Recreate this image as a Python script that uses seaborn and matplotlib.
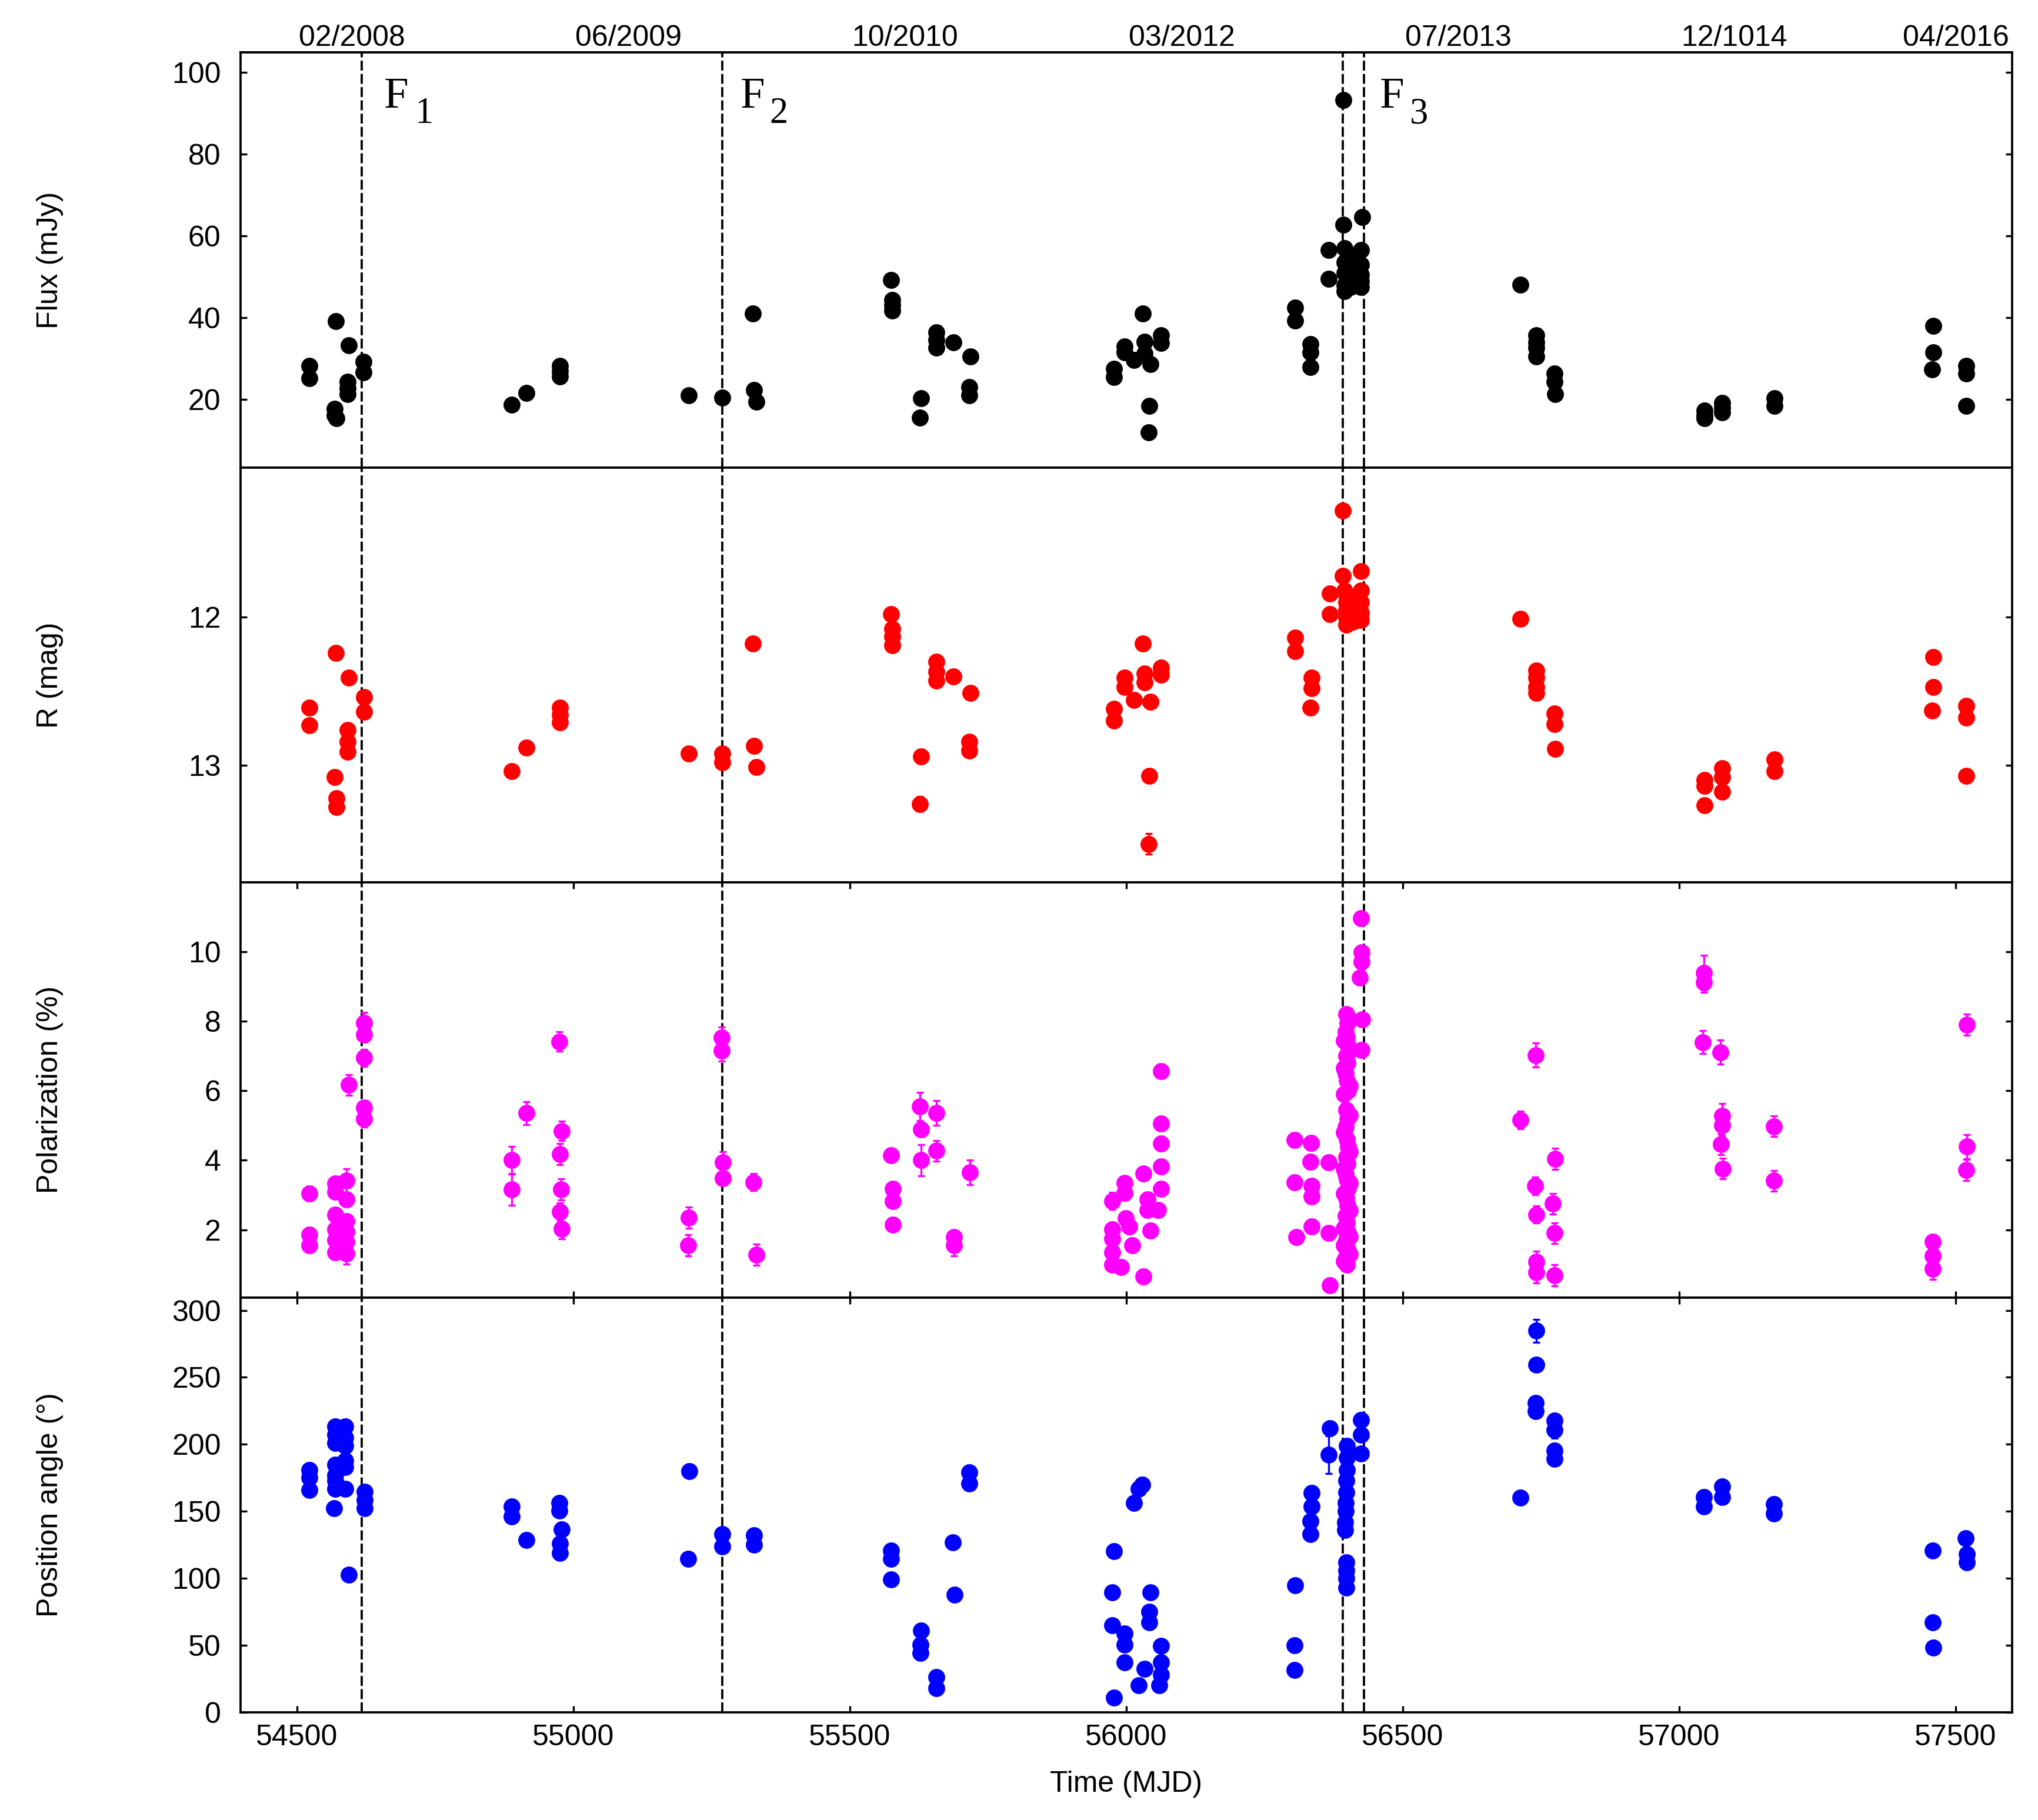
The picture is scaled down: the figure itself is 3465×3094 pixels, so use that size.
import matplotlib
matplotlib.use('Agg')
import matplotlib.pyplot as plt
import matplotlib.transforms as mtransforms
import seaborn as sns

# ---------------- data ----------------
flux_mjd = [54523, 54523, 54570, 54594, 54620, 54620, 54592, 54592, 54592, 54568, 54568, 54572,
            54889, 54915, 54976, 54976, 54976, 55209, 55269, 55325, 55327, 55331,
            55575, 55577, 55577, 55577, 55629, 55627, 55656, 55656, 55656, 55687, 55718, 55716, 55716,
            55978, 55978, 55997, 55997, 56014, 56030, 56033, 56033, 56044, 56042, 56040, 56063, 56063,
            56305, 56305, 56333, 56333, 56333, 56366, 56366, 56393, 56393, 56427,
            56395, 56395, 56395, 56395, 56395, 56405, 56405, 56405, 56405, 56425, 56425, 56425, 56425, 56425,
            56713, 56741, 56741, 56741, 56741, 56774, 56774, 56775,
            57046, 57046, 57046, 57078, 57078, 57078, 57172, 57172,
            57459, 57459, 57457, 57519, 57519, 57519]
flux_val = [28.2, 25.2, 39.1, 33.3, 29.3, 26.7, 24.4, 22.8, 21.4, 17.7, 16.2, 15.4,
            18.8, 21.6, 28.2, 26.9, 25.6, 21.0, 20.5, 41.1, 22.4, 19.5,
            49.2, 44.4, 43.0, 41.7, 20.3, 15.6, 36.5, 34.5, 32.7, 34.0, 30.5, 23.0, 21.0,
            27.5, 25.5, 33.0, 31.5, 29.7, 41.1, 34.2, 31.2, 28.6, 18.4, 12.0, 35.7, 33.8,
            42.5, 39.3, 33.5, 31.5, 28.0, 56.6, 49.5, 93.2, 62.7, 64.6,
            57.0, 53.5, 51.0, 48.0, 46.5, 55.0, 52.0, 49.5, 47.5, 56.6, 53.0, 50.5, 49.0, 47.5,
            48.1, 35.7, 34.0, 32.7, 30.5, 26.3, 24.4, 21.4,
            17.3, 16.2, 15.4, 19.2, 18.0, 16.9, 20.3, 18.4,
            38.0, 31.6, 27.4, 28.2, 26.3, 18.4]

r_mjd = [54523, 54523, 54570, 54594, 54622, 54622, 54592, 54592, 54592, 54568, 54572, 54572,
         54888, 54915, 54976, 54976, 54976, 55209, 55269, 55269, 55325, 55327, 55331,
         55575, 55577, 55577, 55577, 55656, 55656, 55656, 55687, 55718, 55629, 55627, 55716, 55716,
         55978, 55978, 55997, 55997, 56014, 56030, 56033, 56033, 56044, 56042, 56040, 56063, 56063,
         56305, 56305, 56335, 56335, 56333, 56368, 56368, 56391, 56392, 56395,
         56398, 56398, 56398, 56398, 56398, 56410, 56410, 56410, 56410, 56425, 56425, 56425, 56425, 56425,
         56713, 56741, 56741, 56741, 56741, 56774, 56774, 56775,
         57046, 57046, 57046, 57078, 57078, 57078, 57172, 57172,
         57459, 57459, 57457, 57519, 57519, 57519]
r_mag = [12.61, 12.73, 12.24, 12.41, 12.54, 12.64, 12.76, 12.84, 12.91, 13.08, 13.22, 13.28,
         13.04, 12.88, 12.61, 12.66, 12.71, 12.92, 12.92, 12.98, 12.18, 12.87, 13.01,
         11.98, 12.08, 12.13, 12.19, 12.30, 12.37, 12.43, 12.40, 12.51, 12.94, 13.26, 12.84, 12.90,
         12.62, 12.70, 12.41, 12.47, 12.56, 12.18, 12.38, 12.44, 12.57, 13.07, 13.53, 12.34, 12.39,
         12.14, 12.23, 12.41, 12.48, 12.61, 11.84, 11.98, 11.28, 11.72, 11.82,
         11.85, 11.90, 11.95, 12.00, 12.05, 11.88, 11.93, 11.98, 12.03, 11.69, 11.82, 11.90, 11.97, 12.02,
         12.01, 12.36, 12.41, 12.47, 12.51, 12.65, 12.72, 12.89,
         13.10, 13.14, 13.27, 13.02, 13.08, 13.18, 12.96, 13.04,
         12.27, 12.47, 12.63, 12.60, 12.68, 13.07]
r_err = [0.02, 0.02, 0.02, 0.02, 0.02, 0.02, 0.02, 0.02, 0.02, 0.03, 0.04, 0.04,
         0.03, 0.03, 0.02, 0.02, 0.02, 0.03, 0.03, 0.03, 0.02, 0.03, 0.03,
         0.02, 0.02, 0.02, 0.02, 0.02, 0.02, 0.02, 0.02, 0.02, 0.04, 0.05, 0.02, 0.02,
         0.02, 0.02, 0.02, 0.02, 0.02, 0.02, 0.02, 0.02, 0.02, 0.03, 0.07, 0.02, 0.02,
         0.02, 0.02, 0.02, 0.02, 0.02, 0.02, 0.02, 0.02, 0.02, 0.02,
         0.02, 0.02, 0.02, 0.02, 0.02, 0.02, 0.02, 0.02, 0.02, 0.02, 0.02, 0.02, 0.02, 0.02,
         0.02, 0.02, 0.02, 0.02, 0.02, 0.03, 0.03, 0.03,
         0.03, 0.03, 0.04, 0.03, 0.03, 0.03, 0.03, 0.03,
         0.02, 0.02, 0.02, 0.02, 0.02, 0.03]

pol_mjd = [54523, 54523, 54523,
           54569, 54569, 54569, 54569, 54569, 54569,
           54590, 54590, 54590, 54590, 54590, 54590,
           54594, 54622, 54622, 54622, 54622, 54622,
           54888, 54888, 54915, 54975, 54979, 54976, 54978, 54976, 54979,
           55209, 55208, 55268, 55268, 55270, 55270, 55326, 55331,
           55575, 55578, 55578, 55578, 55627, 55629, 55629, 55656, 55657, 55688, 55688, 55717,
           55975, 55975, 55975, 55975, 55975, 55990, 55997, 55997, 55999, 56005, 56011,
           56031, 56031, 56038, 56038, 56044, 56058, 56063, 56063, 56063, 56063, 56063,
           56304, 56304, 56307, 56334, 56333, 56335, 56335, 56335, 56366, 56366, 56368,
           56398, 56400, 56397, 56399, 56401, 56398, 56400, 56397, 56399, 56401,
           56398, 56400, 56397, 56399, 56401, 56398, 56400, 56397, 56399, 56401,
           56398, 56400, 56397, 56399, 56401, 56398, 56400, 56397, 56399,
           56404, 56394, 56404, 56394, 56404, 56394, 56404, 56394, 56404, 56394,
           56404, 56394, 56404, 56394, 56404, 56394, 56404, 56394,
           56425, 56426, 56426, 56422, 56427, 56426,
           56740, 56713, 56775, 56739, 56771, 56741, 56774, 56741, 56741, 56774,
           57045, 57045, 57042, 57074, 57078, 57078, 57075, 57079, 57171, 57171,
           57458, 57458, 57458, 57520, 57520, 57519]
pol_val = [3.04, 1.86, 1.55,
           3.33, 3.10, 2.44, 2.01, 1.70, 1.35,
           3.41, 2.87, 2.25, 1.94, 1.66, 1.31,
           6.17, 7.96, 7.61, 6.95, 5.51, 5.20,
           4.00, 3.16, 5.36, 7.42, 4.84, 4.18, 3.16, 2.52, 2.03,
           2.35, 1.55, 7.53, 7.15, 3.94, 3.49, 3.37, 1.28,
           4.15, 3.18, 2.83, 2.15, 5.55, 4.89, 4.00, 5.36, 4.27, 1.78, 1.55, 3.65,
           2.83, 2.01, 1.74, 1.35, 1.00, 0.93, 3.34, 3.06, 2.33, 2.09, 1.55,
           3.61, 0.65, 2.87, 2.56, 1.97, 2.56, 6.56, 5.05, 4.48, 3.82, 3.18,
           4.58, 3.37, 1.78, 4.50, 3.96, 3.26, 2.95, 2.09, 3.94, 1.90, 0.40,
           8.20, 7.95, 7.70, 7.55, 7.30, 7.00, 6.80, 6.50, 6.30, 6.00,
           5.45, 5.20, 4.95, 4.60, 4.40, 4.10, 3.90, 3.60, 3.45, 3.20,
           2.90, 2.70, 2.40, 2.20, 1.90, 1.70, 1.45, 1.20, 1.00,
           8.05, 7.45, 7.15, 6.65, 6.15, 5.90, 5.30, 4.80, 4.25, 3.75,
           3.35, 3.05, 2.55, 2.05, 1.80, 1.55, 1.30, 1.10,
           10.97, 9.98, 9.71, 9.25, 8.06, 7.17,
           7.03, 5.16, 4.04, 3.26, 2.75, 2.44, 1.90, 1.08, 0.77, 0.69,
           9.40, 9.13, 7.40, 7.11, 5.28, 5.01, 4.46, 3.76, 4.98, 3.41,
           1.66, 1.24, 0.87, 7.90, 4.39, 3.72]
pol_err = [0.20, 0.20, 0.20,
           0.20, 0.20, 0.20, 0.20, 0.20, 0.20,
           0.35, 0.20, 0.20, 0.20, 0.20, 0.30,
           0.30, 0.30, 0.20, 0.25, 0.20, 0.25,
           0.40, 0.45, 0.33, 0.28, 0.28, 0.30, 0.30, 0.25, 0.30,
           0.30, 0.30, 0.30, 0.30, 0.30, 0.20, 0.25, 0.30,
           0.20, 0.20, 0.20, 0.20, 0.40, 0.20, 0.45, 0.35, 0.30, 0.20, 0.30, 0.35,
           0.25, 0.20, 0.20, 0.20, 0.20, 0.20, 0.20, 0.20, 0.20, 0.20, 0.20,
           0.20, 0.20, 0.20, 0.20, 0.20, 0.20, 0.20, 0.20, 0.20, 0.20, 0.20,
           0.20, 0.20, 0.20, 0.20, 0.20, 0.20, 0.20, 0.20, 0.20, 0.20, 0.20,
           0.20, 0.20, 0.20, 0.20, 0.20, 0.20, 0.20, 0.20, 0.20, 0.20,
           0.20, 0.20, 0.20, 0.20, 0.20, 0.20, 0.20, 0.20, 0.20, 0.20,
           0.20, 0.20, 0.20, 0.20, 0.20, 0.20, 0.20, 0.20, 0.20,
           0.20, 0.20, 0.20, 0.20, 0.20, 0.20, 0.20, 0.20, 0.20, 0.20,
           0.20, 0.20, 0.20, 0.20, 0.20, 0.20, 0.20, 0.20,
           0.20, 0.20, 0.20, 0.20, 0.20, 0.20,
           0.35, 0.25, 0.30, 0.25, 0.30, 0.25, 0.30, 0.30, 0.30, 0.30,
           0.50, 0.30, 0.33, 0.35, 0.35, 0.30, 0.30, 0.30, 0.30, 0.30,
           0.20, 0.20, 0.30, 0.30, 0.35, 0.30]

pa_mjd = [54523, 54523, 54523, 54567,
          54569, 54569, 54569, 54569, 54569, 54569, 54569,
          54587, 54587, 54587, 54587, 54587, 54587,
          54623, 54623, 54623, 54594,
          54888, 54888, 54915, 54975, 54975, 54979, 54976, 54976,
          55210, 55208, 55269, 55269, 55327, 55327,
          55575, 55575, 55575, 55629, 55628, 55628, 55656, 55656, 55686, 55689, 55716, 55716,
          55978, 55975, 55975, 55997, 55997, 55997, 55978,
          56022, 56029, 56014, 56044, 56042, 56042, 56063, 56063, 56063, 56033, 56022, 56060,
          56305, 56304, 56304, 56335, 56335, 56333, 56333, 56368, 56366,
          56399, 56399, 56399, 56398, 56398, 56397, 56397, 56396, 56396, 56398, 56398, 56398, 56398,
          56425, 56425, 56425,
          56741, 56742, 56740, 56740, 56774, 56774, 56774, 56774, 56713,
          57045, 57045, 57078, 57078, 57171, 57171,
          57458, 57458, 57459, 57518, 57520, 57520]
pa_val = [181, 175, 166, 152.5,
          213.5, 207, 201, 185, 177, 173, 167,
          213.5, 205, 199, 188, 183, 167,
          164.7, 158.6, 152.5, 102.6,
          153.5, 146.4, 128.7, 156.5, 150.4, 136.6, 126, 118.9,
          180, 114.8, 133, 124, 132, 125,
          120.9, 114.8, 99.1, 60.9, 50.7, 44.6, 26.3, 18.2, 127, 88, 179, 170.8,
          120.3, 89.4, 65, 58.9, 50.7, 37.5, 11,
          166.7, 169.8, 156.5, 89.4, 75, 67, 49.7, 37.5, 28.3, 32.4, 20.2, 20.2,
          94.9, 50.1, 31.8, 163.7, 153.5, 142.7, 133.1, 211.9, 192.1,
          199, 190, 181, 173, 164, 156.5, 150, 142, 136, 112, 106, 100, 93,
          218, 207.4, 193.2,
          284.7, 259.3, 230.8, 224.7, 217.6, 210.5, 195.2, 189.1, 160.2,
          160.6, 153.5, 168.7, 160.6, 155.5, 148.4,
          120.9, 67.4, 48.3, 130, 117.9, 111.8]
pa_err = [3, 3, 3, 3,
          3, 3, 3, 3, 3, 3, 3,
          3, 3, 3, 3, 3, 3,
          3, 3, 3, 3,
          3, 3, 3, 3, 3, 3, 3, 3,
          3, 3, 3, 3, 3, 3,
          3, 3, 3, 3, 3, 3, 3, 3, 3, 3, 3, 3,
          3, 3, 3, 3, 3, 3, 3,
          3, 5.5, 3, 3, 3, 3, 3, 3, 3, 3, 3, 3,
          3, 3, 3, 3, 3, 3, 3, 3, 14,
          3, 3, 3, 3, 3, 3, 3, 3, 3, 3, 3, 3, 3,
          3, 3, 3,
          8.4, 3, 3, 3, 3, 6, 3, 3, 3,
          3, 3, 3, 3, 3, 3,
          3, 3, 3, 3, 3, 3]

flare_mjd = [54617, 55269, 56391, 56430]
flare_names = ['F', 'F', 'F']
flare_subs = ['1', '2', '3']

date_ticks = [54600, 55100, 55600, 56100, 56600, 57100, 57500]
date_labels = ['02/2008', '06/2009', '10/2010', '03/2012', '07/2013', '12/1014', '04/2016']

mjd_ticks = [54500, 55000, 55500, 56000, 56500, 57000, 57500]

# ---------------- style ----------------
sns.set_style('ticks')
plt.rcParams['font.family'] = ['Liberation Sans', 'DejaVu Sans']
plt.rcParams.update({
    'font.size': 12,
    'axes.linewidth': 0.9,
    'axes.edgecolor': 'black',
    'axes.labelcolor': 'black',
    'text.color': 'black',
    'xtick.color': 'black',
    'ytick.color': 'black',
})

fig, axes = plt.subplots(4, 1, sharex=True, figsize=(3465 / 300, 3094 / 300), dpi=300)
fig.subplots_adjust(left=0.118, right=0.9873, bottom=0.0591, top=0.9712, hspace=0)

panels = [
    (flux_mjd, flux_val, None, 'black', 'Flux (mJy)', (3.4, 104.9), [20, 40, 60, 80, 100]),
    (r_mjd, r_mag, r_err, '#ff0000', 'R (mag)', (13.79, 10.99), [12, 13]),
    (pol_mjd, pol_val, pol_err, '#ff00ff', 'Polarization (%)', (0.05, 12.0), [2, 4, 6, 8, 10]),
    (pa_mjd, pa_val, pa_err, '#0000ff', 'Position angle (°)', (0.0, 309.6), [0, 50, 100, 150, 200, 250, 300]),
]

for ax, (xs, ys, errs, col, lab, ylim, yt) in zip(axes, panels):
    if errs is not None:
        ax.errorbar(xs, ys, yerr=errs, fmt='none', ecolor=col, elinewidth=0.8,
                    capsize=1.4, capthick=0.8, zorder=2)
    sns.scatterplot(x=xs, y=ys, color=col, s=48, linewidth=0, ax=ax, zorder=3)
    for xv in flare_mjd:
        ax.axvline(xv, color='black', lw=0.9, ls=(0, (4.5, 1.5)), zorder=1)
    ax.set_ylim(*ylim)
    ax.set_yticks(yt)
    ax.set_ylabel(lab, fontsize=12)
    ax.yaxis.set_label_coords(-0.100, 0.5)
    ax.tick_params(axis='y', direction='in', left=True, right=True, length=2.6,
                   width=0.8, pad=8, labelsize=12)
    for sp in ax.spines.values():
        sp.set_visible(True)
        sp.set_linewidth(0.9)

ax0 = axes[0]
ax0.set_xlim(54398, 57602)
ax0.set_xticks(mjd_ticks)

for ax in axes[:2]:
    ax.tick_params(axis='x', bottom=False, top=False, labelbottom=False)
axes[2].tick_params(axis='x', direction='in', bottom=True, top=True, length=2.6,
                    width=0.8, labelbottom=False)
axes[3].tick_params(axis='x', direction='in', bottom=True, top=True, length=2.6,
                    width=0.8, labelbottom=True, pad=4.8, labelsize=12)
axes[3].set_xlabel('Time (MJD)', fontsize=12)
axes[3].xaxis.set_label_coords(0.5, -0.14)

# top date axis
sec = ax0.secondary_xaxis('top')
sec.set_xticks(date_ticks)
sec.set_xticklabels(date_labels)
sec.tick_params(axis='x', length=0, pad=0.3, labelsize=12)

# flare labels
trans = mtransforms.blended_transform_factory(ax0.transData, ax0.transAxes)
flare_label_x = [54658, 55302, 56458]
flare_sub_x = [54713, 55355, 56513]
for nm, sb, xf, xsb in zip(flare_names, flare_subs, flare_label_x, flare_sub_x):
    ax0.text(xf, 0.867, nm, transform=trans, ha='left', va='baseline', fontsize=18,
             family=['Liberation Serif', 'DejaVu Serif'])
    ax0.text(xsb, 0.830, sb, transform=trans, ha='left', va='baseline', fontsize=15,
             family=['Liberation Serif', 'DejaVu Serif'])

fig.savefig('out.png', dpi=300, facecolor='white')
